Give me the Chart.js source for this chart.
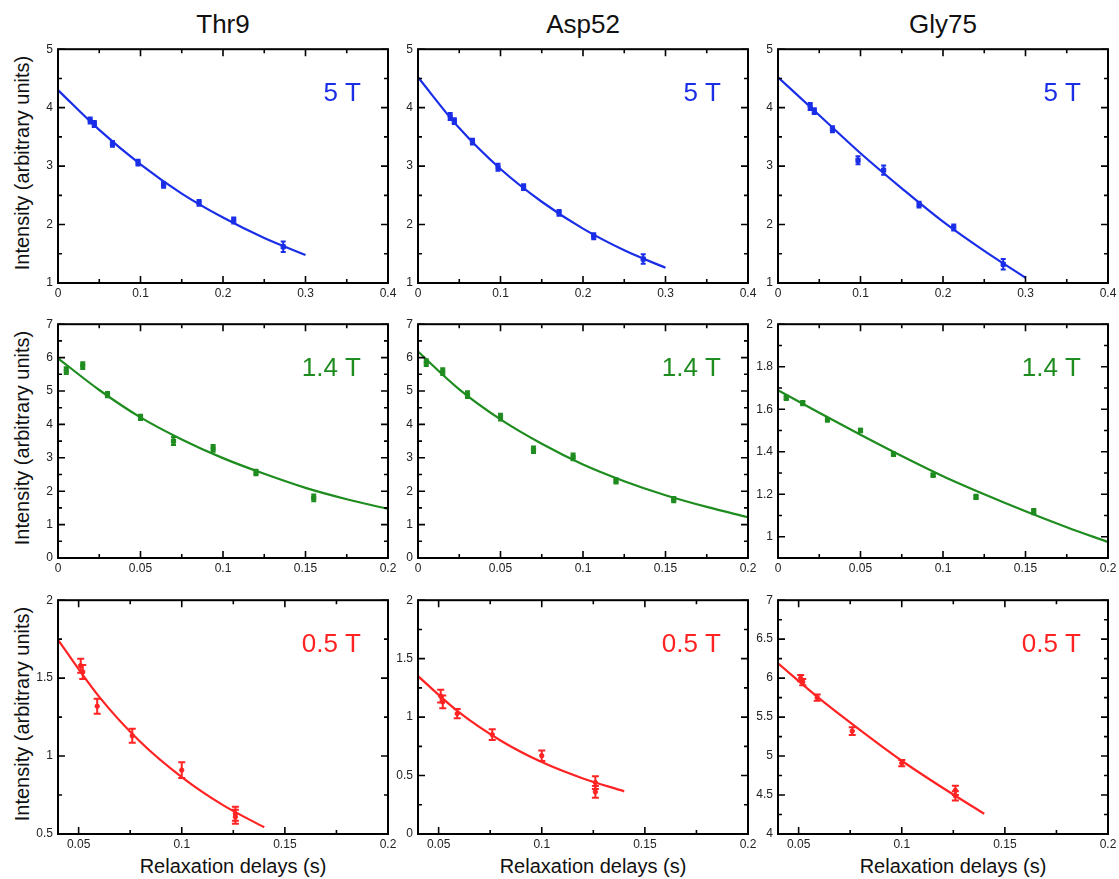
<!DOCTYPE html>
<html lang="en">
<head>
<meta charset="utf-8">
<title>Relaxation decays at three fields</title>
<script src="https://cdn.jsdelivr.net/npm/chart.js@4.4.1/dist/chart.umd.min.js"></script>
<style>
  html, body { margin: 0; padding: 0; background: #fff; }
  #figure {
    position: relative;
    width: 1119px;
    height: 879px;
    overflow: hidden;
    font-family: "Liberation Sans", Arial, sans-serif;
    color: #111;
  }
  .panel { position: absolute; }
  .col-title {
    position: absolute;
    font-size: 26px;
    line-height: 26px;
    white-space: nowrap;
    transform: translateX(-50%);
  }
  .y-title, .x-title {
    position: absolute;
    font-size: 20px;
    line-height: 20px;
    white-space: nowrap;
  }
  .y-title { transform: translate(-50%, -50%) rotate(-90deg); }
  .x-title { transform: translate(-50%, -50%); }
</style>
</head>
<body>
<div id="figure"></div>
<script>
// residues (columns) and fields (rows)
const residues = ["Thr9", "Asp52", "Gly75"];
const fields = ["5 T", "1.4 T", "0.5 T"];
const fieldColors = ["#1a2ee8", "#1e8c1e", "#ff2323"];

// measured delays (s) per field
const delays5T = [0.039, 0.044, 0.066, 0.097, 0.128, 0.171, 0.213, 0.273];
const delays14T = [0.005, 0.015, 0.03, 0.05, 0.07, 0.094, 0.12, 0.155];
const delays05T = [0.051, 0.052, 0.059, 0.076, 0.1, 0.126, 0.126];

// intensities and errors, 5 T
const thr9At5T = [3.78, 3.72, 3.38, 3.06, 2.68, 2.37, 2.07, 1.62];
const thr9At5TErr = [0.05, 0.05, 0.05, 0.05, 0.05, 0.05, 0.05, 0.09];
const asp52At5T = [3.85, 3.77, 3.42, 2.98, 2.64, 2.2, 1.8, 1.41];
const asp52At5TErr = [0.06, 0.05, 0.05, 0.06, 0.05, 0.05, 0.05, 0.08];
const gly75At5T = [4.02, 3.94, 3.63, 3.1, 2.93, 2.34, 1.95, 1.32];
const gly75At5TErr = [0.06, 0.05, 0.05, 0.07, 0.08, 0.05, 0.05, 0.09];

// intensities and errors, 1.4 T
const thr9At14T = [5.61, 5.76, 4.89, 4.21, 3.5, 3.28, 2.56, 1.8];
const thr9At14TErr = [0.1, 0.1, 0.08, 0.08, 0.12, 0.1, 0.08, 0.1];
const asp52At14T = [5.85, 5.58, 4.89, 4.22, 3.24, 3.03, 2.31, 1.75];
const asp52At14TErr = [0.1, 0.1, 0.1, 0.1, 0.1, 0.1, 0.08, 0.08];
const gly75At14T = [1.653, 1.629, 1.55, 1.5, 1.388, 1.29, 1.187, 1.118];
const gly75At14TErr = [0.01, 0.01, 0.008, 0.008, 0.008, 0.008, 0.01, 0.012];

// intensities and errors, 0.5 T
const thr9At05T = [1.58, 1.54, 1.32, 1.13, 0.91, 0.63, 0.61];
const thr9At05TErr = [0.045, 0.045, 0.048, 0.045, 0.05, 0.045, 0.045];
const asp52At05T = [1.18, 1.13, 1.03, 0.85, 0.67, 0.44, 0.36];
const asp52At05TErr = [0.055, 0.055, 0.04, 0.045, 0.045, 0.055, 0.05];
const gly75At05T = [6.0, 5.95, 5.75, 5.32, 4.91, 4.56, 4.49];
const gly75At05TErr = [0.04, 0.04, 0.04, 0.05, 0.04, 0.06, 0.06];

// fitted decay curves
const fitDelays5T = [0, 0.05, 0.1, 0.15, 0.2, 0.25, 0.3];
const thr9Fit5T = [4.3, 3.62, 3.03, 2.53, 2.12, 1.77, 1.48];
const asp52Fit5T = [4.52, 3.65, 2.95, 2.39, 1.93, 1.56, 1.26];
const gly75Fit5T = [4.52, 3.87, 3.22, 2.62, 2.05, 1.55, 1.09];

const fitDelays14T = [0, 0.025, 0.05, 0.075, 0.1, 0.125, 0.15, 0.175, 0.2];
const thr9Fit14T = [5.98, 5.03, 4.21, 3.55, 2.99, 2.52, 2.1, 1.76, 1.47];
const asp52Fit14T = [6.18, 5.05, 4.15, 3.42, 2.8, 2.3, 1.88, 1.53, 1.22];
const gly75Fit14T = [1.689, 1.583, 1.48, 1.38, 1.285, 1.2, 1.12, 1.045, 0.975];

const fitDelays05T = [0.04, 0.06, 0.08, 0.1, 0.12, 0.14];
const thr9Fit05T = [1.745, 1.38, 1.09, 0.865, 0.685, 0.543];
const asp52Fit05T = [1.35, 1.04, 0.8, 0.615, 0.475, 0.365];
const gly75Fit05T = [6.19, 5.74, 5.33, 4.94, 4.59, 4.26];

// tick labels
const xTicks5T = [0, 0.1, 0.2, 0.3, 0.4];
const xTicks14T = [0, 0.05, 0.1, 0.15, 0.2];
const xTicks05T = [0.05, 0.1, 0.15, 0.2];
const yTicks5T = [1, 2, 3, 4, 5];
const yTicks14T = [0, 1, 2, 3, 4, 5, 6, 7];
const yTicksGly14T = [1, 1.2, 1.4, 1.6, 1.8, 2];
const yTicksLow05T = [0.5, 1, 1.5, 2];
const yTicksAsp05T = [0, 0.5, 1, 1.5, 2];
const yTicksGly05T = [4, 4.5, 5, 5.5, 6, 6.5, 7];

document.addEventListener("DOMContentLoaded", () => {
  const figure = document.getElementById("figure");

  const PLOT_W = 330;
  const PLOT_H = 236;
  const colLeft = [58, 418, 778];
  const rowTop = [47, 322, 598];
  const PAD_L = 50;
  const PAD_T = 10;
  const PAD_R = 18;
  const PAD_B = 22;
  const tickFont = { family: "'Liberation Sans', Arial, sans-serif", size: 12 };

  const panels = [
    { row: 0, col: 0, x: delays5T, y: thr9At5T, err: thr9At5TErr, fitX: fitDelays5T, fitY: thr9Fit5T, xr: [0, 0.4], yr: [1, 5], xt: xTicks5T, yt: yTicks5T },
    { row: 0, col: 1, x: delays5T, y: asp52At5T, err: asp52At5TErr, fitX: fitDelays5T, fitY: asp52Fit5T, xr: [0, 0.4], yr: [1, 5], xt: xTicks5T, yt: yTicks5T },
    { row: 0, col: 2, x: delays5T, y: gly75At5T, err: gly75At5TErr, fitX: fitDelays5T, fitY: gly75Fit5T, xr: [0, 0.4], yr: [1, 5], xt: xTicks5T, yt: yTicks5T },
    { row: 1, col: 0, x: delays14T, y: thr9At14T, err: thr9At14TErr, fitX: fitDelays14T, fitY: thr9Fit14T, xr: [0, 0.2], yr: [0, 7], xt: xTicks14T, yt: yTicks14T },
    { row: 1, col: 1, x: delays14T, y: asp52At14T, err: asp52At14TErr, fitX: fitDelays14T, fitY: asp52Fit14T, xr: [0, 0.2], yr: [0, 7], xt: xTicks14T, yt: yTicks14T },
    { row: 1, col: 2, x: delays14T, y: gly75At14T, err: gly75At14TErr, fitX: fitDelays14T, fitY: gly75Fit14T, xr: [0, 0.2], yr: [0.9, 2], xt: xTicks14T, yt: yTicksGly14T },
    { row: 2, col: 0, x: delays05T, y: thr9At05T, err: thr9At05TErr, fitX: fitDelays05T, fitY: thr9Fit05T, xr: [0.04, 0.2], yr: [0.5, 2], xt: xTicks05T, yt: yTicksLow05T },
    { row: 2, col: 1, x: delays05T, y: asp52At05T, err: asp52At05TErr, fitX: fitDelays05T, fitY: asp52Fit05T, xr: [0.04, 0.2], yr: [0, 2], xt: xTicks05T, yt: yTicksAsp05T },
    { row: 2, col: 2, x: delays05T, y: gly75At05T, err: gly75At05TErr, fitX: fitDelays05T, fitY: gly75Fit05T, xr: [0.04, 0.2], yr: [4, 7], xt: xTicks05T, yt: yTicksGly05T },
  ];

  function minorValues(majors, min, max) {
    const step = majors[1] - majors[0];
    const candidates = [majors[0] - step / 2, ...majors.map((v) => v + step / 2)];
    return candidates.filter((v) => v > min + 1e-9 && v < max - 1e-9);
  }

  // vertical error bars with caps, in the dataset colour
  const errorBars = {
    id: "errorBars",
    afterDatasetsDraw(chart) {
      const { ctx } = chart;
      const yScale = chart.scales.y;
      chart.data.datasets.forEach((ds, i) => {
        if (!ds.errors) return;
        const meta = chart.getDatasetMeta(i);
        ctx.save();
        ctx.strokeStyle = ds.borderColor;
        ctx.lineWidth = 2;
        meta.data.forEach((pt, j) => {
          const v = ds.data[j].y;
          const e = ds.errors[j];
          const top = yScale.getPixelForValue(v + e);
          const bot = yScale.getPixelForValue(v - e);
          const cap = ds.capHalf;
          ctx.beginPath();
          ctx.moveTo(pt.x, top);
          ctx.lineTo(pt.x, bot);
          ctx.moveTo(pt.x - cap, top);
          ctx.lineTo(pt.x + cap, top);
          ctx.moveTo(pt.x - cap, bot);
          ctx.lineTo(pt.x + cap, bot);
          ctx.stroke();
        });
        ctx.restore();
      });
    },
  };

  // box frame, inward ticks on all four sides and the field label
  const panelFrame = {
    id: "panelFrame",
    afterDraw(chart, args, opts) {
      const { ctx, chartArea: a } = chart;
      const { x, y } = chart.scales;
      const majorLen = 7;
      const minorLen = 4;
      const seg = (x1, y1, x2, y2) => {
        ctx.moveTo(x1, y1);
        ctx.lineTo(x2, y2);
      };
      ctx.save();
      ctx.strokeStyle = "#000";
      ctx.lineWidth = 1.6;
      ctx.beginPath();
      const xMaj = x.ticks.map((t) => t.value);
      const yMaj = y.ticks.map((t) => t.value);
      xMaj.forEach((v) => {
        const px = x.getPixelForValue(v);
        seg(px, a.bottom, px, a.bottom - majorLen);
        seg(px, a.top, px, a.top + majorLen);
      });
      minorValues(xMaj, x.min, x.max).forEach((v) => {
        const px = x.getPixelForValue(v);
        seg(px, a.bottom, px, a.bottom - minorLen);
        seg(px, a.top, px, a.top + minorLen);
      });
      yMaj.forEach((v) => {
        const py = y.getPixelForValue(v);
        seg(a.left, py, a.left + majorLen, py);
        seg(a.right, py, a.right - majorLen, py);
      });
      minorValues(yMaj, y.min, y.max).forEach((v) => {
        const py = y.getPixelForValue(v);
        seg(a.left, py, a.left + minorLen, py);
        seg(a.right, py, a.right - minorLen, py);
      });
      ctx.stroke();
      ctx.lineWidth = 2;
      ctx.strokeRect(a.left, a.top, a.right - a.left, a.bottom - a.top);

      ctx.fillStyle = opts.color;
      ctx.font = "26px 'Liberation Sans', Arial, sans-serif";
      ctx.textAlign = "right";
      ctx.textBaseline = "alphabetic";
      ctx.fillText(opts.label, a.right - 27, a.top + 52);
      ctx.restore();
    },
  };

  function renderPanel(p) {
    const color = fieldColors[p.row];
    const wrap = document.createElement("div");
    wrap.className = "panel";
    wrap.style.left = `${colLeft[p.col] - PAD_L}px`;
    wrap.style.top = `${rowTop[p.row] - PAD_T}px`;
    const canvas = document.createElement("canvas");
    canvas.width = PAD_L + PLOT_W + PAD_R;
    canvas.height = PAD_T + PLOT_H + PAD_B;
    wrap.appendChild(canvas);
    figure.appendChild(wrap);

    const fit = p.fitX.map((t, i) => ({ x: t, y: p.fitY[i] }));
    const points = p.x.map((t, i) => ({ x: t, y: p.y[i] }));
    const lowField = p.row === 2;

    return new Chart(canvas, {
      type: "scatter",
      data: {
        datasets: [
          {
            data: fit,
            showLine: true,
            borderColor: color,
            borderWidth: 2.2,
            pointRadius: 0,
            cubicInterpolationMode: "monotone",
          },
          {
            data: points,
            errors: p.err,
            capHalf: lowField ? 3.5 : 2.5,
            borderColor: color,
            backgroundColor: color,
            pointStyle: lowField ? "circle" : "rect",
            pointRadius: lowField ? 2.2 : 3,
            pointBorderWidth: 1,
          },
        ],
      },
      options: {
        responsive: false,
        animation: false,
        devicePixelRatio: 1,
        layout: { padding: { left: 0, top: PAD_T, right: PAD_R, bottom: 0 } },
        plugins: {
          legend: { display: false },
          tooltip: { enabled: false },
          panelFrame: { label: fields[p.row], color },
        },
        scales: {
          x: {
            type: "linear",
            min: p.xr[0],
            max: p.xr[1],
            afterBuildTicks: (s) => {
              s.ticks = p.xt.map((v) => ({ value: v }));
            },
            afterFit: (s) => {
              s.height = PAD_B;
            },
            grid: { display: false, drawTicks: false },
            border: { display: false },
            ticks: {
              font: tickFont,
              color: "#222",
              padding: 3,
              maxRotation: 0,
              autoSkip: false,
              callback: (v) => String(v),
            },
          },
          y: {
            type: "linear",
            min: p.yr[0],
            max: p.yr[1],
            afterBuildTicks: (s) => {
              s.ticks = p.yt.map((v) => ({ value: v }));
            },
            afterFit: (s) => {
              s.width = PAD_L;
            },
            grid: { display: false, drawTicks: false },
            border: { display: false },
            ticks: {
              font: tickFont,
              color: "#222",
              padding: 5,
              autoSkip: false,
              callback: (v) => String(v),
            },
          },
        },
      },
      plugins: [errorBars, panelFrame],
    });
  }

  function addText(cls, text, left, top) {
    const el = document.createElement("div");
    el.className = cls;
    el.textContent = text;
    el.style.left = `${left}px`;
    el.style.top = `${top}px`;
    figure.appendChild(el);
  }

  residues.forEach((name, c) => {
    addText("col-title", name, colLeft[c] + PLOT_W / 2, 11);
    addText("x-title", "Relaxation delays (s)", colLeft[c] + PLOT_W / 2 + 10, 866);
  });
  rowTop.forEach((top) => {
    addText("y-title", "Intensity (arbitrary units)", 22, top + PLOT_H / 2 - 2);
  });

  panels.forEach(renderPanel);
});
</script>
</body>
</html>
